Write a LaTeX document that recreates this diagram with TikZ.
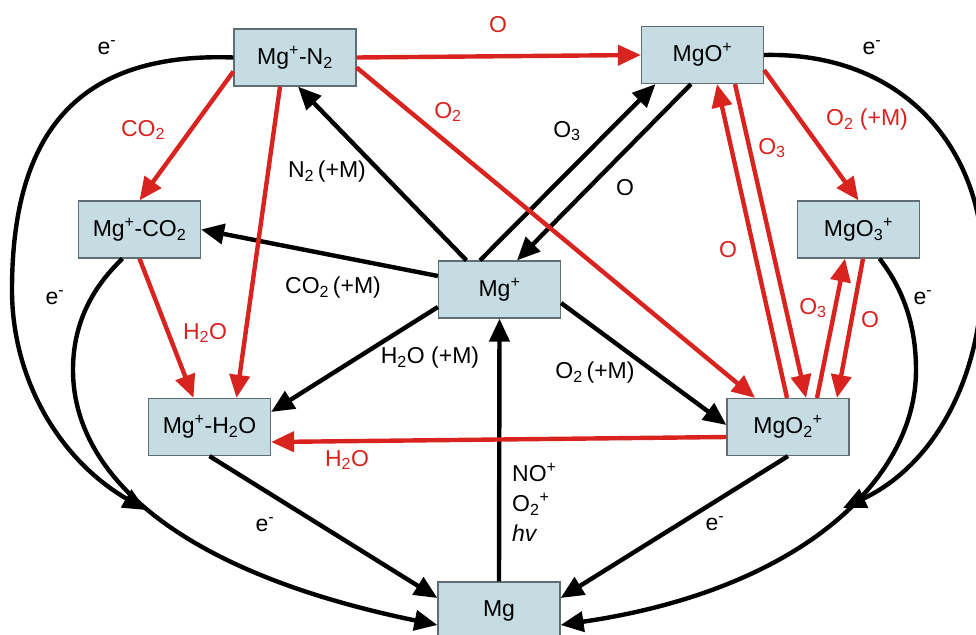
\documentclass[tikz,border=0pt]{standalone}
\usepackage{fontspec}
\setmainfont{Liberation Sans}
\usetikzlibrary{arrows.meta}
\definecolor{boxfill}{HTML}{C5DCE3}
\definecolor{boxline}{HTML}{5F6E74}
\definecolor{rxred}{HTML}{D8231F}
\newcommand{\lsub}[1]{\textsubscript{#1}}
\newcommand{\lsup}[1]{\textsuperscript{#1}}
\newcommand{\fs}{\fontsize{23}{30}\selectfont}
\tikzset{
  box/.style={draw=boxline, line width=1.2pt, fill=boxfill, minimum width=122pt, minimum height=57pt, inner sep=0pt, font=\fs},
  blk/.style={draw=black, line width=4.4pt, -{Triangle[length=23pt,width=20pt]}},
  rarr/.style={draw=rxred, line width=4.4pt, -{Triangle[length=23pt,width=20pt]}},
  blkc/.style={draw=black, line width=4.4pt, -{Triangle[length=23pt,width=20pt]}},
  lab/.style={font=\fs, inner sep=0pt},
  rlab/.style={font=\fs, inner sep=0pt, text=rxred}
}
\begin{document}
\begin{tikzpicture}[x=1pt,y=-1pt]
\clip (0,0) rectangle (976,634);
\useasboundingbox (0,0) rectangle (976,634);
\fill[white] (0,0) rectangle (976,634);

% nodes
\node[box] (N2)   at (295,57.5)   {Mg\lsup{+}-N\lsub{2}};
\node[box] (MgOp) at (702.5,55)   {MgO\lsup{+}};
\node[box] (CO2)  at (139.5,229.5){Mg\lsup{+}-CO\lsub{2}};
\node[box] (O3)   at (858.5,229.5){MgO\lsub{3}\lsup{+}};
\node[box] (Mgp)  at (499.5,289.5){Mg\lsup{+}};
\node[box] (H2O)  at (209.5,427)  {Mg\lsup{+}-H\lsub{2}O};
\node[box] (O2)   at (788,427)    {MgO\lsub{2}\lsup{+}};
\node[box] (Mg)   at (499,610.5)  {Mg};

\coordinate (mL) at (146,510);
\coordinate (mR) at (843,508);

% black connectors
\draw[blk] ([xshift=-33pt]Mgp.north) -- ([xshift=3pt]N2.south);
\draw[blk] ([yshift=13.5pt]Mgp.west) -- (CO2.east);
\draw[blk] ([yshift=-17.5pt]Mgp.west) -- ([yshift=15pt]H2O.east);
\draw[blk] ([yshift=-13.5pt]Mgp.east) -- ([yshift=2pt]O2.west);
\draw[blk] ([xshift=-19.5pt]Mgp.north) -- ([xshift=-47pt]MgOp.south);
\draw[blk] ([xshift=-11.5pt]MgOp.south) -- ([xshift=17.5pt]Mgp.north);
\draw[blk] (Mg.north) -- (Mgp.south);
\draw[blk] (H2O.south) -- ([yshift=12.5pt]Mg.west);
\draw[blk] (O2.south) -- ([yshift=12.5pt]Mg.east);

% curved electron connectors
\draw[blkc] ([xshift=-17pt]CO2.south) .. controls (95,285) and (73,320) .. (73,370)
   .. controls (73,470) and (170,570) .. ([yshift=-14.5pt]Mg.west);
\draw[blkc] (N2.west) .. controls (80,52) and (12,130) .. (12,290)
   .. controls (12,380) and (60,460) .. (mL);
\draw[blkc] ([xshift=21pt]O3.south) .. controls (900,285) and (916,320) .. (916,370)
   .. controls (916,480) and (800,590) .. ([yshift=-14.5pt]Mg.east);
\draw[blkc] (MgOp.east) .. controls (905,52) and (983,150) .. (983,265)
   .. controls (983,390) and (925,470) .. (mR);

% red connectors
\draw[rarr] (N2.east) -- (MgOp.west);
\draw[rarr] ([yshift=-14pt]N2.west) -- (CO2.north);
\draw[rarr] ([xshift=-15pt]N2.south) -- ([xshift=27pt]H2O.north);
\draw[rarr] (CO2.south) -- ([xshift=-16pt]H2O.north);
\draw[rarr] ([yshift=-10pt]N2.east) -- ([xshift=-33pt]O2.north);
\draw[rarr] ([yshift=-10pt]O2.west) -- ([yshift=-15pt]H2O.east);
\draw[rarr] ([yshift=-15pt]MgOp.east) -- (O3.north);
\draw[rarr] ([xshift=-1pt]O2.north) -- ([xshift=14.5pt]MgOp.south);
\draw[rarr] ([xshift=32.5pt]MgOp.south) -- ([xshift=18pt]O2.north);
\draw[rarr] ([xshift=29pt]O2.north) -- ([xshift=-13.5pt]O3.south);
\draw[rarr] ([xshift=4.5pt]O3.south) -- ([xshift=49pt]O2.north);

% labels
\node[lab] (l1) at (107,48) {e\lsup{-}};
\node[lab] (l2) at (872,48) {e\lsup{-}};
\node[lab] (l3) at (55,298) {e\lsup{-}};
\node[lab] (l4) at (923,298) {e\lsup{-}};
\node[lab] (l5) at (265,525) {e\lsup{-}};
\node[lab] (l6) at (715,524) {e\lsup{-}};
\node[rlab] (l7) at (498,25) {O};
\node[rlab] (l8) at (143,130) {CO\lsub{2}};
\node[rlab] (l9) at (448,112) {O\lsub{2}};
\node[lab] (l10) at (327,172) {N\lsub{2}\,(+M)};
\node[lab] (l11) at (333,288) {CO\lsub{2}\,(+M)};
\node[rlab] (l12) at (205,333) {H\lsub{2}O};
\node[lab] (l13) at (430,358) {H\lsub{2}O (+M)};
\node[rlab] (l14) at (347,460) {H\lsub{2}O};
\node[lab] (l15) at (567,131) {O\lsub{3}};
\node[lab] (l16) at (625,188) {O};
\node[rlab] (l17) at (867,120) {O\lsub{2} (+M)};
\node[rlab] (l18) at (772,148) {O\lsub{3}};
\node[rlab] (l19) at (728,250) {O};
\node[rlab] (l20) at (813,308) {O\lsub{3}};
\node[rlab] (l21) at (870,320) {O};
\node[lab] (l22) at (595,373) {O\lsub{2}\,(+M)};
\node[lab, anchor=north west, align=left] (l23) at (512,463) {NO\lsup{+}\\O\lsub{2}\lsup{+}\\\textit{hv}};
\end{tikzpicture}
\end{document}
